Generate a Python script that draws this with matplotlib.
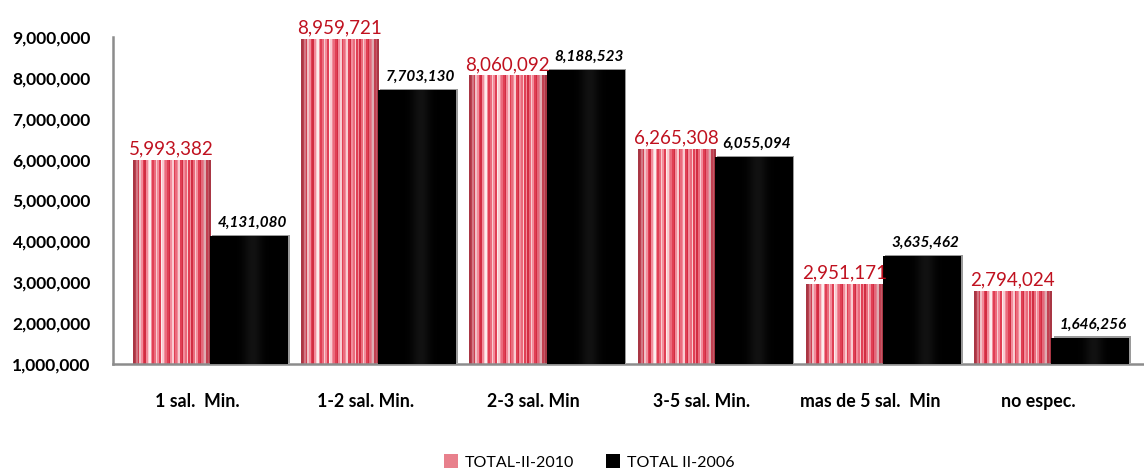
import numpy as np
import matplotlib
matplotlib.use("Agg")
import matplotlib.pyplot as plt
from matplotlib.patches import Rectangle
import matplotlib.patheffects as pe
import matplotlib.transforms as mtransforms
from matplotlib.ticker import FuncFormatter

plt.rcParams['font.family'] = ['Lato', 'DejaVu Sans']

categories = ["1 sal.  Min.", "1-2 sal. Min.", "2-3 sal. Min", "3-5 sal. Min.",
              "mas de 5 sal.  Min", "no espec."]
total_2010 = [5993382, 8959721, 8060092, 6265308, 2951171, 2794024]
total_2006 = [4131080, 7703130, 8188523, 6055094, 3635462, 1646256]
series_names = ["TOTAL-II-2010", "TOTAL II-2006"]
yticks = [1000000, 2000000, 3000000, 4000000, 5000000, 6000000, 7000000, 8000000, 9000000]

fig = plt.figure(figsize=(11.44, 4.72), dpi=100)
ax = fig.add_axes([113/1144, 1 - 364/472, 1 - 113/1144, (364 - 37)/472])

x = np.arange(len(categories))
w = 0.46
base = yticks[0]
red_vals = np.array(total_2010) - base
blk_vals = np.array(total_2006) - base

bars_r = ax.bar(x - w/2, red_vals, w, bottom=base, color='#e06070', zorder=2, linewidth=0)
bars_b = ax.bar(x + w/2, blk_vals, w, bottom=base, color='black', zorder=3, linewidth=0,
                path_effects=[pe.SimplePatchShadow(offset=(1.5, 1.0), shadow_rgbFace='#9a9a9a', alpha=1.0), pe.Normal()])

# stripe texture for red bars (fixed pattern)
palette = np.array([
    [0.88, 0.25, 0.33],   # red
    [0.95, 0.55, 0.61],   # pink
    [0.98, 0.80, 0.82],   # light pink
    [0.82, 0.18, 0.26],   # deep red
    [0.99, 0.93, 0.93],   # near white
    [0.92, 0.42, 0.49],
])
pattern = [3, 0, 1, 0, 2, 1, 0, 3, 1, 2, 4, 1, 0, 5, 2, 1, 0, 4, 2, 1, 5, 0, 3, 1,
           2, 0, 5, 1, 2, 0, 3, 1, 5, 2, 0, 1, 3, 5, 2, 1, 0, 3, 5, 1, 2, 0, 5, 3]
stripes = palette[pattern]
n = len(pattern)
pos = np.linspace(0, 1, n)
shade = np.ones(n)
shade = np.where(pos < 0.10, 0.6 + 0.4 * pos / 0.10, shade)
shade = np.where(pos > 0.88, 1 - 0.4 * (pos - 0.88) / 0.12, shade)
mix = np.clip(1 - shade, 0, 1)[:, None] * 1.2
mix = np.clip(mix, 0, 1)
tex = stripes * (1 - mix) + np.array([0.50, 0.25, 0.28]) * mix
tex_img = tex[None, :, :]

for b in bars_r:
    x0, y0, bw, bh = b.get_x(), b.get_y(), b.get_width(), b.get_height()
    im = ax.imshow(tex_img, extent=(x0, x0 + bw, y0, y0 + bh), aspect='auto',
                   interpolation='nearest', zorder=2.1)
    im.set_clip_path(b)

# black bar gradient
gpos = np.linspace(0, 1, 60)
g = 0.0 + 0.07 * np.exp(-((gpos - 0.55) / 0.12) ** 2)
blk_img = np.stack([g, g, g], axis=-1)[None, :, :]
for b in bars_b:
    x0, y0, bw, bh = b.get_x(), b.get_y(), b.get_width(), b.get_height()
    im = ax.imshow(blk_img, extent=(x0, x0 + bw, y0, y0 + bh), aspect='auto',
                   interpolation='bilinear', zorder=3.1)
    im.set_clip_path(b)

# labels
for b, v in zip(bars_r, total_2010):
    ax.text(b.get_x() + b.get_width()/2, v + 60000, f"{v:,}", ha='center', va='bottom',
            color='#c0111f', fontsize=13.5, zorder=5)
for b, v in zip(bars_b, total_2006):
    ax.text(b.get_x() + b.get_width()/2 + 0.02, v + 150000, f"{v:,}", ha='center', va='bottom',
            color='black', fontsize=11, fontweight='bold', fontstyle='italic', zorder=5)

ax.set_xlim(-0.577, 5.55)
ax.set_ylim(base, 9000000)
ax.set_yticks(yticks)
ax.yaxis.set_major_formatter(FuncFormatter(lambda v, p: f"{int(v):,}"))
ax.set_xticks(x)
ax.set_xticklabels(categories)
ax.tick_params(axis='both', length=0)
ax.tick_params(axis='y', pad=16, labelsize=12.5)
ax.tick_params(axis='x', pad=21, labelsize=12.8)
shift = mtransforms.ScaledTranslation(-13/100, 0, fig.dpi_scale_trans)
for lab in ax.get_xticklabels():
    lab.set_transform(lab.get_transform() + shift)
for lab in ax.get_yticklabels() + ax.get_xticklabels():
    lab.set_fontweight('bold')

for s in ['top', 'right']:
    ax.spines[s].set_visible(False)
for s in ['left', 'bottom']:
    ax.spines[s].set_color('#8c8c8c')
    ax.spines[s].set_linewidth(1.8)
ax.set_facecolor('white')

handles = [Rectangle((0, 0), 1, 1, facecolor='#e8808c', edgecolor='none'),
           Rectangle((0, 0), 1, 1, facecolor='black', edgecolor='none')]
fig.legend(handles, series_names, loc='center', bbox_to_anchor=(0.515, 1 - 462/472), ncol=2,
           frameon=False, fontsize=11.5, handlelength=0.9, handleheight=0.9,
           handletextpad=0.4, columnspacing=2.0)

fig.savefig("out.png", dpi=100)
